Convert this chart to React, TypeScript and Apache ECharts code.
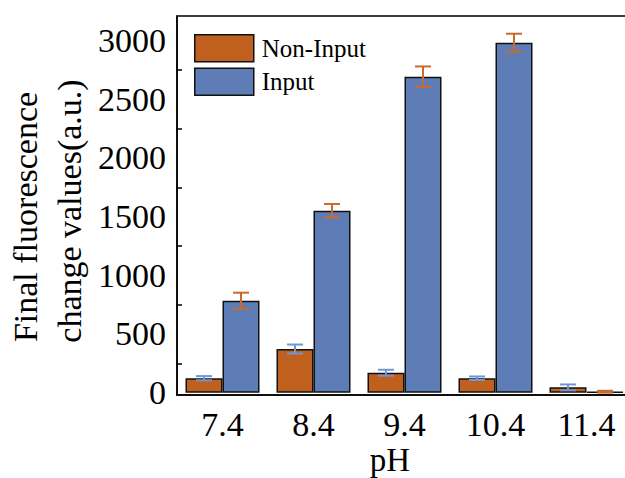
import React, { useEffect, useRef } from "react";
import * as echarts from "echarts";

const categories = ["7.4", "8.4", "9.4", "10.4", "11.4"];
const nonInput = [123, 372, 170, 123, 45];
const nonInputErr = [18, 38, 25, 15, 25];
const input = [784, 1551, 2693, 2983, 8];
const inputErr = [68, 57, 87, 76, 8];
const yMajor = [0, 500, 1000, 1500, 2000, 2500, 3000];
const yMinor = [250, 750, 1250, 1750, 2250, 2750];

const ORANGE = "#BF601F";
const BLUE = "#5E7DB7";
const ORANGE_ERR = "#C96B2B";
const BLUE_ERR = "#7196D3";
const FONT = "Liberation Serif";
const BAR_W = 37;

function errSeries(vals: number[], errs: number[], offset: number, color: string) {
  return {
    type: "custom",
    z: 10,
    xAxisIndex: 0,
    yAxisIndex: 0,
    silent: true,
    encode: { x: 0, y: 1 },
    data: vals.map((v, i) => [i, v, errs[i]]),
    renderItem: (params: any, api: any) => {
      const x = api.value(0);
      const v = api.value(1);
      const e = api.value(2);
      const hi = api.coord([x, v + e]);
      const lo = api.coord([x, Math.max(v - e, 0)]);
      const cx = hi[0] + offset;
      const st = { stroke: color, lineWidth: 2 };
      const hw = 8;
      return {
        type: "group",
        children: [
          { type: "line", shape: { x1: cx, y1: hi[1], x2: cx, y2: lo[1] }, style: st },
          { type: "line", shape: { x1: cx - hw, y1: hi[1], x2: cx + hw, y2: hi[1] }, style: st },
          { type: "line", shape: { x1: cx - hw, y1: lo[1], x2: cx + hw, y2: lo[1] }, style: st },
        ],
      };
    },
  };
}

export default function App() {
  const ref = useRef<HTMLDivElement>(null);
  useEffect(() => {
    if (!ref.current) return;
    const chart = echarts.init(ref.current, undefined, { renderer: "svg" });
    const axisText = { fontFamily: FONT, fontSize: 34, color: "#000" };
    chart.setOption({
      animation: false,
      backgroundColor: "#fff",
      textStyle: { fontFamily: FONT },
      grid: {
        left: 177,
        top: 16,
        width: 455,
        height: 379,
        show: true,
        borderColor: "#000",
        borderWidth: 1.5,
        backgroundColor: "transparent",
        containLabel: false,
      },
      legend: {
        orient: "vertical",
        left: 189,
        top: 29,
        itemWidth: 59,
        itemHeight: 27,
        itemGap: 5,
        icon: "rect",
        itemStyle: { borderColor: "#111", borderWidth: 1.5 },
        textStyle: { fontFamily: FONT, fontSize: 25, color: "#000", padding: [0, 0, 0, 3] },
        data: ["Non-Input", "Input"],
      },
      xAxis: [
        {
          type: "category",
          data: categories,
          position: "bottom",
          axisLine: { onZero: false, lineStyle: { color: "#000", width: 1.5 } },
          axisTick: { alignWithLabel: true, length: 8, lineStyle: { color: "#000", width: 1.5 } },
          axisLabel: { ...axisText, margin: 12 },
          splitLine: { show: false },
        },
        {
          type: "category",
          data: categories,
          position: "bottom",
          axisLine: { show: false, onZero: false },
          axisTick: { alignWithLabel: false, length: 5, lineStyle: { color: "#000", width: 1.5 } },
          axisLabel: { show: false },
          splitLine: { show: false },
        },
      ],
      yAxis: [
        {
          type: "value",
          min: -20,
          max: 3210,
          axisLine: { show: true, onZero: false, lineStyle: { color: "#000", width: 1.5 } },
          axisTick: { inside: true, length: 8, customValues: yMajor, lineStyle: { color: "#000", width: 1.5 } },
          axisLabel: { ...axisText, margin: 11, customValues: yMajor, formatter: (v: number) => String(v) },
          splitLine: { show: false },
        },
        {
          type: "value",
          min: -20,
          max: 3210,
          position: "left",
          axisLine: { show: false },
          axisTick: { show: true, inside: true, length: 5, customValues: yMinor, lineStyle: { color: "#000", width: 1.5 } },
          axisLabel: { show: false, customValues: yMinor },
          splitLine: { show: false },
        },
      ],
      graphic: [
        {
          type: "text",
          x: 25,
          y: 217,
          rotation: Math.PI / 2,
          style: { text: "Final fluorescence", fontFamily: FONT, fontSize: 34, fill: "#000", align: "center", verticalAlign: "middle" },
        },
        {
          type: "text",
          x: 69,
          y: 211,
          rotation: Math.PI / 2,
          style: { text: "change values(a.u.)", fontFamily: FONT, fontSize: 34, fill: "#000", align: "center", verticalAlign: "middle" },
        },
        {
          type: "text",
          x: 390,
          y: 460,
          style: { text: "pH", fontFamily: FONT, fontSize: 33, fill: "#000", align: "center", verticalAlign: "middle" },
        },
      ],
      series: [
        {
          name: "Non-Input",
          type: "bar",
          data: nonInput,
          barWidth: BAR_W,
          barGap: "0%",
          itemStyle: { color: ORANGE, borderColor: "#111", borderWidth: 1.5 },
        },
        {
          name: "Input",
          type: "bar",
          data: input,
          barWidth: BAR_W,
          barGap: "0%",
          itemStyle: { color: BLUE, borderColor: "#111", borderWidth: 1.5 },
        },
        errSeries(nonInput, nonInputErr, -BAR_W / 2, BLUE_ERR),
        errSeries(input, inputErr, BAR_W / 2, ORANGE_ERR),
      ],
    });
    return () => chart.dispose();
  }, []);
  return (
    <div
      ref={ref}
      style={{ position: "fixed", left: 0, top: 0, width: 640, height: 478 }}
    />
  );
}
